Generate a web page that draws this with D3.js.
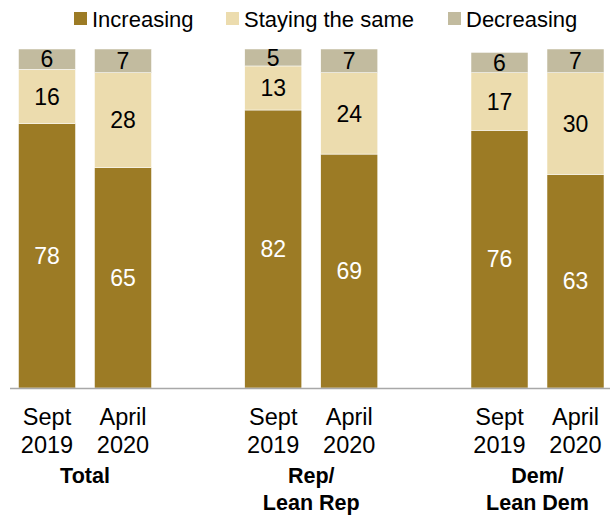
<!DOCTYPE html>
<html><head><meta charset="utf-8">
<script src="https://cdn.jsdelivr.net/npm/d3@7"></script>
<style>body{margin:0;background:#fff}svg{display:block}text{font-family:"Liberation Sans",Arial,sans-serif}</style>
</head><body><svg id="c" width="610" height="515"></svg>
<script>
const groups = ["Total", "Rep/\nLean Rep", "Dem/\nLean Dem"];
const periods = ["Sept\n2019", "April\n2020"];
const seriesNames = ["Increasing", "Staying the same", "Decreasing"];
const increasing = [78, 65, 82, 69, 76, 63];
const staying = [16, 28, 13, 24, 17, 30];
const decreasing = [6, 7, 5, 7, 6, 7];
const colors = ["#9c7b25", "#ecdcae", "#c2bb9f"];

const svg = d3.select("#c");
const rows = [];
groups.forEach((g, gi) => periods.forEach((p, pi) => {
  const i = gi * 2 + pi;
  rows.push({group: g, period: p, Increasing: increasing[i], "Staying the same": staying[i], Decreasing: decreasing[i]});
}));
const stack = d3.stack().keys(seriesNames)(rows);

const x0 = d3.scalePoint().domain(groups).range([85, 537.5]);
const x1 = d3.scaleBand().domain(periods).range([-66.5, 66.5]).paddingInner(0.25).paddingOuter(0);
const y = d3.scaleLinear().domain([0, 100]).range([388, 49]);

stack.forEach((layer, li) => {
  const g = svg.append("g");
  layer.forEach(d => {
    const bx = x0(d.data.group) + x1(d.data.period);
    g.append("rect").attr("x", bx).attr("width", x1.bandwidth())
      .attr("y", y(d[1])).attr("height", y(d[0]) - y(d[1]))
      .attr("fill", colors[li]).attr("stroke", "#fff").attr("stroke-width", 0.5);
    g.append("text").attr("x", bx + x1.bandwidth() / 2).attr("y", (y(d[0]) + y(d[1])) / 2)
      .attr("dy", "0.36em").attr("text-anchor", "middle").attr("font-size", 23)
      .attr("fill", li === 0 ? "#fff" : "#000").text(d[1] - d[0]);
  });
});

// baseline
svg.append("line").attr("x1", 10).attr("x2", 610).attr("y1", y(0) + 0.5).attr("y2", y(0) + 0.5)
  .attr("stroke", "#a8a8a8").attr("stroke-width", 1.5);

// period labels
groups.forEach(g => periods.forEach(p => {
  const cx = x0(g) + x1(p) + x1.bandwidth() / 2;
  const t = svg.append("text").attr("text-anchor", "middle").attr("font-size", 23.5).attr("fill", "#000");
  p.split("\n").forEach((line, k) => t.append("tspan").attr("x", cx).attr("y", 425 + k * 28).text(line));
}));
// group labels
groups.forEach(g => {
  const t = svg.append("text").attr("text-anchor", "middle").attr("font-size", 21.5).attr("font-weight", "bold").attr("fill", "#000");
  g.split("\n").forEach((line, k) => t.append("tspan").attr("x", x0(g)).attr("y", 483 + k * 27).text(line));
});

// legend
const legX = [74, 226, 448];
seriesNames.forEach((s, i) => {
  svg.append("rect").attr("x", legX[i]).attr("y", 12).attr("width", 13).attr("height", 13).attr("fill", colors[i]);
  svg.append("text").attr("x", legX[i] + 18).attr("y", 27).attr("font-size", 22).attr("fill", "#000").text(s);
});
</script></body></html>
